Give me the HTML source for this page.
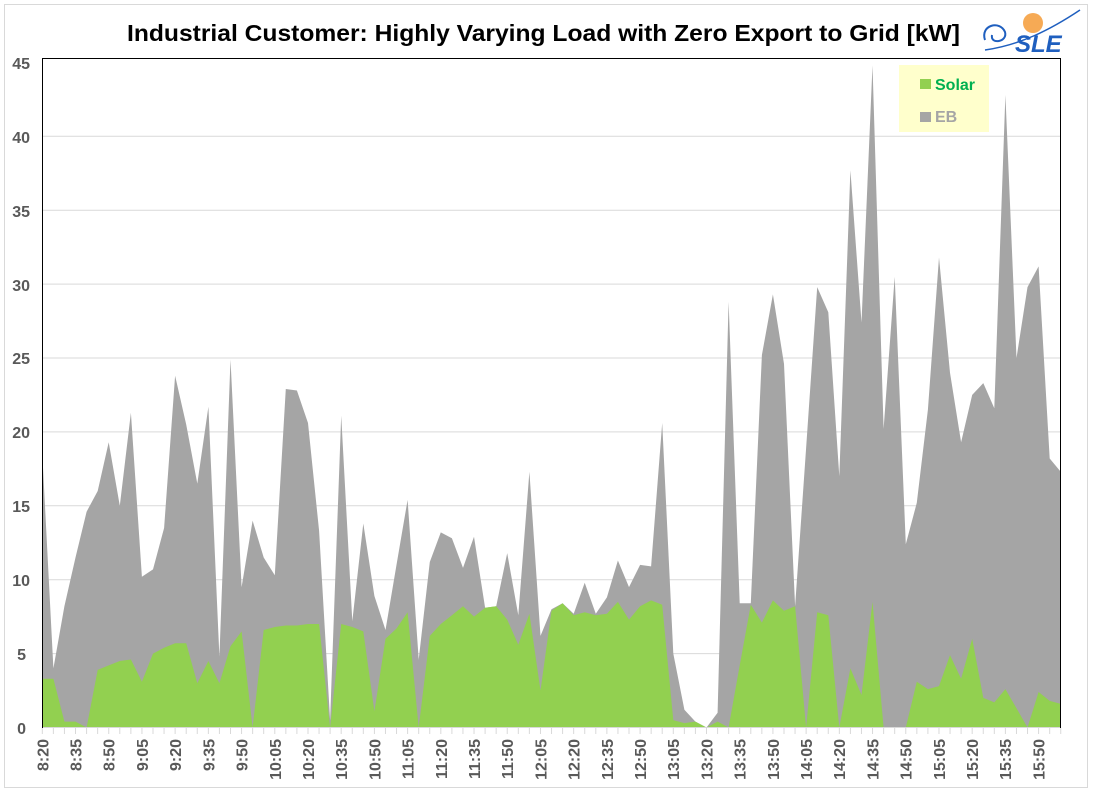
<!DOCTYPE html>
<html><head><meta charset="utf-8"><style>
body{margin:0;background:#fff;width:1093px;height:793px;overflow:hidden;font-family:"Liberation Sans",sans-serif}
</style></head><body>
<svg id="s" width="1093" height="793" xmlns="http://www.w3.org/2000/svg" font-family="Liberation Sans, sans-serif">
<rect x="4.5" y="4.5" width="1083" height="783" fill="#fff" stroke="#d9d9d9"/>
<g stroke="#d9d9d9" stroke-width="1">
<line x1="42" x2="1061" y1="653.6" y2="653.6"/><line x1="42" x2="1061" y1="579.7" y2="579.7"/>
<line x1="42" x2="1061" y1="505.8" y2="505.8"/><line x1="42" x2="1061" y1="431.9" y2="431.9"/>
<line x1="42" x2="1061" y1="358" y2="358"/><line x1="42" x2="1061" y1="284.1" y2="284.1"/>
<line x1="42" x2="1061" y1="210.2" y2="210.2"/><line x1="42" x2="1061" y1="136.3" y2="136.3"/>
</g>
<polygon id="eb" fill="#a5a5a5"/>
<polygon id="so" fill="#92d050"/>
<g id="ticks" stroke="#d9d9d9"></g>
<line x1="42" y1="727.5" x2="1061" y2="727.5" stroke="#d9d9d9"/>
<line x1="42.5" y1="58" x2="42.5" y2="728" stroke="#000"/>
<line x1="42" y1="58.5" x2="1061" y2="58.5" stroke="#000"/>
<line x1="1060.5" y1="58" x2="1060.5" y2="728" stroke="#000"/>
<g font-size="16" font-weight="bold" fill="#595959" text-anchor="end">
<text x="26" y="734">0</text><text x="26" y="660">5</text><text x="30" y="586">10</text><text x="30" y="512">15</text>
<text x="30" y="438">20</text><text x="30" y="364">25</text><text x="30" y="291">30</text><text x="30" y="217">35</text>
<text x="30" y="143">40</text><text x="30" y="69">45</text>
</g>
<g font-size="16" font-weight="bold" fill="#595959" text-anchor="end">
<text transform="translate(48.3,739) rotate(-90)">8:20</text>
<text transform="translate(81.5,739) rotate(-90)">8:35</text>
<text transform="translate(114.7,739) rotate(-90)">8:50</text>
<text transform="translate(147.9,739) rotate(-90)">9:05</text>
<text transform="translate(181.1,739) rotate(-90)">9:20</text>
<text transform="translate(214.4,739) rotate(-90)">9:35</text>
<text transform="translate(247.6,739) rotate(-90)">9:50</text>
<text transform="translate(280.8,739) rotate(-90)">10:05</text>
<text transform="translate(314,739) rotate(-90)">10:20</text>
<text transform="translate(347.2,739) rotate(-90)">10:35</text>
<text transform="translate(380.4,739) rotate(-90)">10:50</text>
<text transform="translate(413.6,739) rotate(-90)">11:05</text>
<text transform="translate(446.8,739) rotate(-90)">11:20</text>
<text transform="translate(480,739) rotate(-90)">11:35</text>
<text transform="translate(513.2,739) rotate(-90)">11:50</text>
<text transform="translate(546.4,739) rotate(-90)">12:05</text>
<text transform="translate(579.6,739) rotate(-90)">12:20</text>
<text transform="translate(612.8,739) rotate(-90)">12:35</text>
<text transform="translate(646,739) rotate(-90)">12:50</text>
<text transform="translate(679.2,739) rotate(-90)">13:05</text>
<text transform="translate(712.4,739) rotate(-90)">13:20</text>
<text transform="translate(745.6,739) rotate(-90)">13:35</text>
<text transform="translate(778.8,739) rotate(-90)">13:50</text>
<text transform="translate(812,739) rotate(-90)">14:05</text>
<text transform="translate(845.2,739) rotate(-90)">14:20</text>
<text transform="translate(878.4,739) rotate(-90)">14:35</text>
<text transform="translate(911.6,739) rotate(-90)">14:50</text>
<text transform="translate(944.8,739) rotate(-90)">15:05</text>
<text transform="translate(978,739) rotate(-90)">15:20</text>
<text transform="translate(1011.2,739) rotate(-90)">15:35</text>
<text transform="translate(1044.4,739) rotate(-90)">15:50</text>
</g>
<rect x="899" y="65" width="90" height="67" fill="#ffffcc"/>
<rect x="920" y="79" width="11" height="10" fill="#92d050"/>
<text x="935" y="90" font-size="16" font-weight="bold" fill="#00b050">Solar</text>
<rect x="920" y="112" width="11" height="10" fill="#a5a5a5"/>
<text x="935" y="122" font-size="16" font-weight="bold" fill="#a5a5a5">EB</text>
<text x="127" y="41" font-size="23" font-weight="bold" fill="#000" textLength="833" lengthAdjust="spacingAndGlyphs">Industrial Customer: Highly Varying Load with Zero Export to Grid [kW]</text>
<circle cx="1033" cy="23" r="10" fill="#f5a142" opacity="0.9"/>
<path d="M985 40 C980 25 1000 20 1005 32 C1008 42 990 45 992 35" fill="none" stroke="#1f5fbf" stroke-width="2"/>
<path d="M985 50 C1020 45 1050 30 1080 10" fill="none" stroke="#1f5fbf" stroke-width="1.5"/>
<text x="1015" y="52" font-size="24" font-style="italic" font-weight="bold" fill="#1f5fbf">SLE</text>
</svg>
<script>
var T=[18.5,4,8.2,11.5,14.6,16,19.3,15,21.3,10.2,10.7,13.5,23.8,20.5,16.5,21.7,4.8,24.9,9.5,14,11.5,10.3,22.9,22.8,20.6,13.3,0.5,21.1,7.2,13.8,8.9,6.6,11,15.4,4.6,11.2,13.2,12.8,10.8,12.9,8.1,8.2,11.8,7.6,17.3,6.2,8,8.4,7.7,9.8,7.7,8.8,11.3,9.5,11,10.9,20.6,5,1.2,0.4,0,1,28.8,8.4,8.4,25.2,29.3,24.6,8.2,18.9,29.8,28.1,17,37.7,27.4,44.8,20.2,30.5,12.4,15.2,21.5,31.8,24,19.3,22.5,23.3,21.6,42.8,25,29.8,31.2,18.2,17.3];
var S=[3.3,3.3,0.4,0.4,0,3.9,4.2,4.5,4.6,3.1,5,5.4,5.7,5.7,3,4.5,3,5.5,6.5,0,6.6,6.8,6.9,6.9,7,7,0,7,6.8,6.5,1.1,6,6.7,7.8,0,6.2,7,7.6,8.2,7.5,8.1,8.2,7.3,5.6,7.7,2.5,7.9,8.4,7.6,7.8,7.6,7.7,8.5,7.3,8.2,8.6,8.3,0.5,0.3,0.4,0,0.4,0,4.2,8.3,7.1,8.6,7.9,8.2,0,7.8,7.6,0,4,2.2,8.5,0,0,0,3.1,2.6,2.8,4.9,3.3,6,2,1.7,2.6,1.3,0,2.4,1.8,1.6];
function X(i){return 42.3+i*11.07}function Y(v){return 727.5-v*14.78}
function pts(a){var p=X(0)+','+Y(0);for(var i=0;i<a.length;i++)p+=' '+X(i).toFixed(1)+','+Y(a[i]).toFixed(1);p+=' '+X(a.length-1)+','+Y(0);return p}
document.getElementById('eb').setAttribute('points',pts(T));
document.getElementById('so').setAttribute('points',pts(S));
var g=document.getElementById('ticks'),h='';
for(var i=0;i<=92;i++){h+='<line x1="'+X(i)+'" x2="'+X(i)+'" y1="728" y2="734"/>'}
g.innerHTML=h;
</script>
</body></html>
